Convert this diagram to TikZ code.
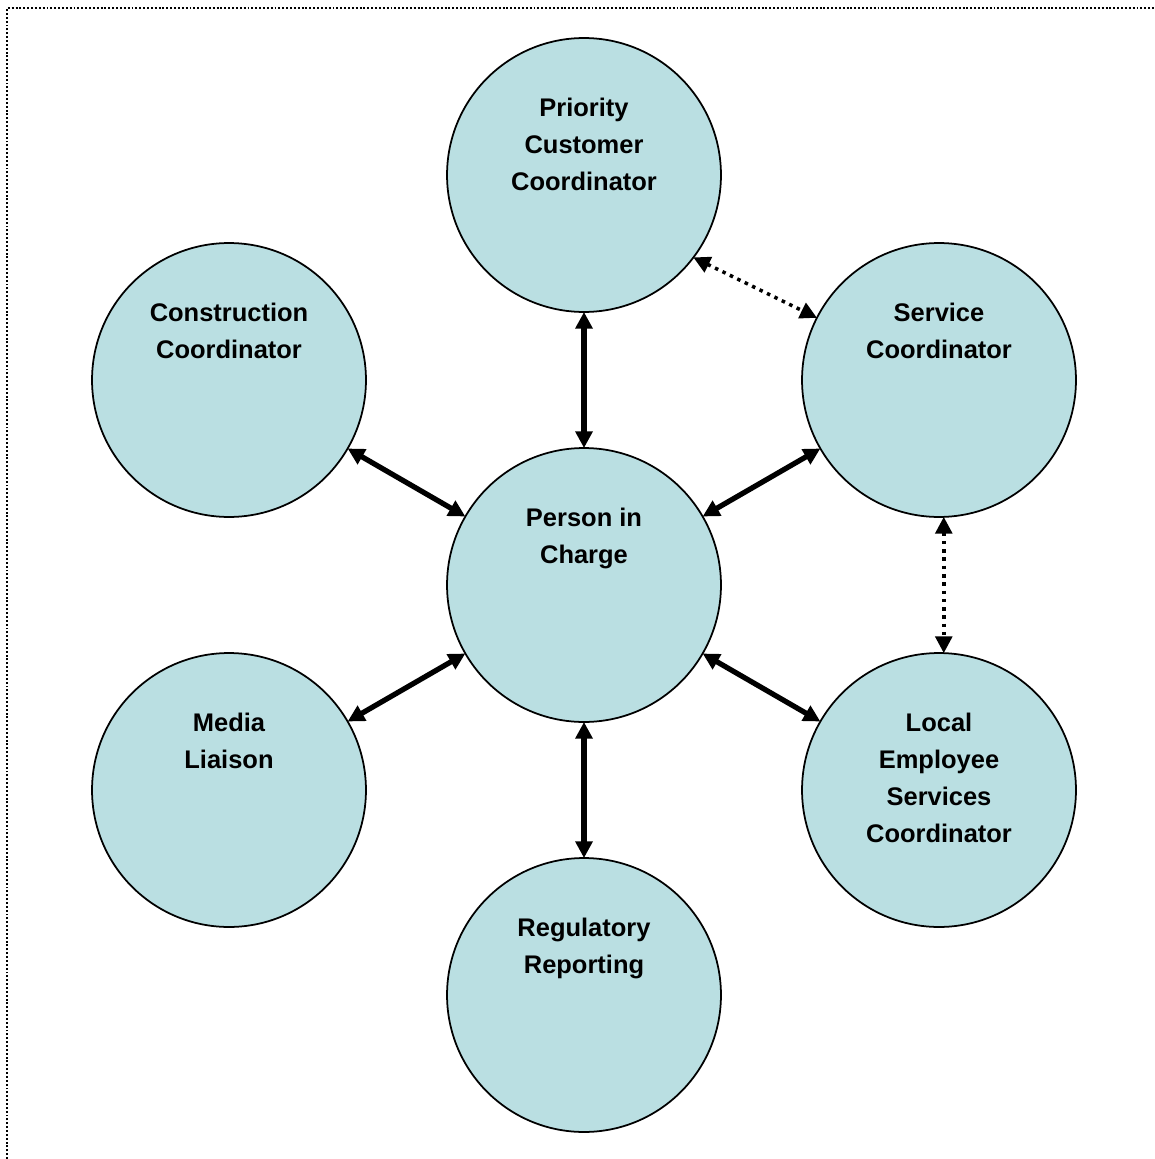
\documentclass[tikz,border=0pt]{standalone}
\usepackage{fontspec}
\setmainfont{Liberation Sans}
\usetikzlibrary{arrows.meta}
\definecolor{roleFill}{RGB}{186,223,226}

\begin{document}
\begin{tikzpicture}[x=0.02cm, y=-0.02cm, >={Triangle[length=9.5pt,width=9.5pt]}]
	\tikzstyle{role} = [circle, minimum size=5.48cm, inner sep=0pt, outer sep=0pt, draw=black, line width=1pt, fill=roleFill]
	\tikzstyle{caption} = [anchor=north, inner sep=0pt, align=center, font=\bfseries\fontsize{14.5}{21}\selectfont, yshift=1.54cm]
	\tikzstyle{arrow} = [line width=3pt, <->]
	\tikzstyle{link} = [line width=2pt, dash pattern=on 2pt off 2.7pt, <->]
	\tikzstyle{frame} = [line width=1.1pt, dash pattern=on 1.1pt off 1.1pt]
	\useasboundingbox (0,0) rectangle (1154,1159);
	\draw [frame] (7,1159) -- (7,8) -- (1154,8);
	\node (person) [role] at (584,585) {};
	\node (priority) [role] at (584,175) {};
	\node (construction) [role] at (229,380) {};
	\node (service) [role] at (939,380) {};
	\node (media) [role] at (229,790) {};
	\node (local) [role] at (939,790) {};
	\node (regulatory) [role] at (584,995) {};
	\node (personText) [caption] at (person.center) {Person in\\Charge};
	\node (priorityText) [caption] at (priority.center) {Priority\\Customer\\Coordinator};
	\node (constructionText) [caption] at (construction.center) {Construction\\Coordinator};
	\node (serviceText) [caption] at (service.center) {Service\\Coordinator};
	\node (mediaText) [caption] at (media.center) {Media\\Liaison};
	\node (localText) [caption] at (local.center) {Local\\Employee\\Services\\Coordinator};
	\node (regulatoryText) [caption] at (regulatory.center) {Regulatory\\Reporting};
	\draw [arrow] (person) -- (priority);
	\draw [arrow] (person) -- (construction);
	\draw [arrow] (person) -- (service);
	\draw [arrow] (person) -- (media);
	\draw [arrow] (person) -- (local);
	\draw [arrow] (person) -- (regulatory);
	\draw [link] (priority.-37) -- (service.153);
	\draw [link] (service.-88) -- (local.88);
\end{tikzpicture}
\end{document}
